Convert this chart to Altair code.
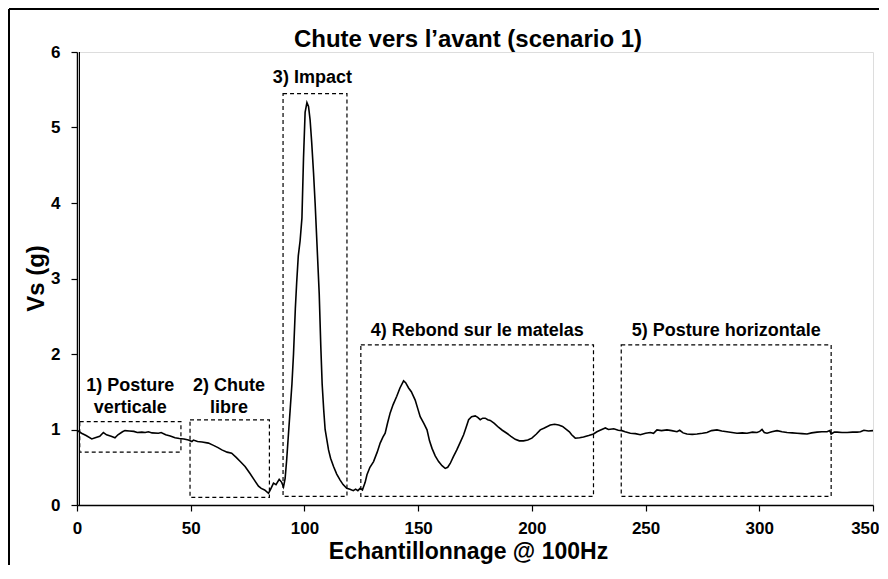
import altair as alt
import pandas as pd

# ---- signal (sample index, Vs in g) ----
sample = [0, 2, 4, 6.5, 8, 10, 11.6, 13, 15, 16.7, 18, 20, 21.1, 23, 25, 26.5, 28.5, 30, 31.4, 33,
          35.8, 37, 39, 41, 43.1, 45, 47, 49, 50.5, 51.2, 53, 55, 57.8, 60, 62, 63.7, 66, 68, 70, 72,
          73.9, 76, 78, 79.8, 81, 82.5, 84.2, 85, 86.4, 87.5, 88.9, 90, 90.8, 91.5, 92.2, 93, 93.7, 94.5,
          95.2, 96, 96.6, 97.3, 98.1, 98.9, 99.6, 100.3, 101.1, 101.8, 102.5, 103.2, 104, 104.7, 105.6,
          106.5, 107.2, 107.8, 108.5, 109.1, 110.6, 111.5, 112.8, 114.2, 115.7, 117, 118.6, 120, 121.5,
          122.5, 123.5, 124.5, 125.5, 126.7, 127.5, 128.8, 130.4, 132, 133.3, 134.5, 135.5, 136.5,
          137.7, 139, 140.6, 142, 143.6, 144.5, 145.8, 147, 148.7, 149.8, 150.9, 152.5, 153.9, 155,
          156.1, 157.5, 159, 160.5, 161.9, 163, 164.1, 165.5, 167, 168.5, 170, 171, 172.2, 173.5, 175.1,
          176.2, 177.3, 178.4, 179.5, 180.6, 181.7, 183.5, 185.3, 187, 189, 190.8, 192.7, 194.5, 196.3,
          198.2, 200, 202, 203.7, 205.5, 208.1, 210, 211.8, 213.5, 215.4, 216.5, 217.5, 219.1, 221,
          222.7, 225, 227.1, 228.6, 230, 231.5, 232.3, 233.7, 236, 238, 239.6, 241, 243.3, 245.5, 247.7,
          250, 252.1, 253.5, 255, 257, 259.4, 261.5, 263.8, 265, 266.5, 268.2, 270.5, 272.6, 275, 277,
          279, 281.4, 283.5, 285.8, 288, 290.2, 292.5, 294.6, 297, 299, 300.2, 301.2, 302.2, 303.4,
          305.5, 307.8, 310, 312.2, 314.5, 316.6, 318.8, 321, 323, 325.4, 327.5, 329.8, 331, 331.6, 333,
          334.2, 336.4, 338.6, 341, 343, 344.5, 346, 348, 350]
vs_g = [0.99, 0.95, 0.92, 0.875, 0.89, 0.91, 0.96, 0.93, 0.91, 0.89, 0.93, 0.97, 0.985, 0.98, 0.975, 0.96,
        0.965, 0.96, 0.97, 0.955, 0.95, 0.96, 0.93, 0.915, 0.89, 0.88, 0.875, 0.86, 0.84, 0.86, 0.84, 0.835,
        0.82, 0.79, 0.76, 0.73, 0.70, 0.685, 0.63, 0.57, 0.51, 0.42, 0.33, 0.25, 0.22, 0.20, 0.155, 0.20,
        0.29, 0.27, 0.34, 0.30, 0.24, 0.35, 0.60, 0.95, 1.25, 1.60, 2.0, 2.6, 2.95, 3.3, 3.5, 3.8, 4.6, 5.2,
        5.33, 5.28, 5.1, 4.8, 4.4, 4.0, 3.4, 2.8, 2.1, 1.6, 1.25, 1.0, 0.73, 0.62, 0.51, 0.41, 0.33, 0.27,
        0.22, 0.21, 0.19, 0.21, 0.19, 0.22, 0.20, 0.30, 0.40, 0.50, 0.575, 0.70, 0.82, 0.90, 0.95, 1.08,
        1.22, 1.33, 1.44, 1.55, 1.645, 1.62, 1.55, 1.50, 1.39, 1.28, 1.17, 1.08, 0.995, 0.85, 0.75, 0.65,
        0.575, 0.52, 0.485, 0.50, 0.55, 0.64, 0.73, 0.83, 0.93, 1.02, 1.13, 1.17, 1.18, 1.16, 1.13, 1.15,
        1.15, 1.13, 1.12, 1.08, 1.03, 0.99, 0.95, 0.91, 0.87, 0.85, 0.85, 0.86, 0.885, 0.94, 0.995, 1.02,
        1.06, 1.07, 1.06, 1.04, 0.995, 0.97, 0.93, 0.885, 0.89, 0.90, 0.92, 0.94, 0.97, 0.99, 1.01, 1.02,
        1.0, 1.01, 0.99, 0.985, 0.97, 0.95, 0.945, 0.93, 0.95, 0.96, 0.95, 0.995, 0.985, 0.995, 0.985,
        0.97, 0.99, 0.955, 0.94, 0.935, 0.94, 0.95, 0.96, 0.985, 0.995, 0.98, 0.97, 0.96, 0.95, 0.955,
        0.95, 0.965, 0.96, 0.975, 1.0, 0.96, 0.95, 0.97, 0.985, 0.97, 0.96, 0.955, 0.95, 0.945, 0.94,
        0.955, 0.965, 0.97, 0.97, 0.985, 0.94, 0.965, 0.965, 0.96, 0.96, 0.965, 0.965, 0.97, 0.99, 0.98,
        0.985]

# ---- phase boxes ----
box_x1 = [1.2, 49.7, 90.6, 124.8, 239.3]
box_x2 = [45.7, 84.6, 118.7, 227.1, 331.6]
box_y1 = [0.70, 0.10, 0.115, 0.115, 0.115]
box_y2 = [1.105, 1.127, 5.45, 2.12, 2.12]

# ---- phase labels ----
label_text = ["1) Posture", "verticale", "2) Chute", "libre", "3) Impact",
              "4) Rebond sur le matelas", "5) Posture horizontale"]
label_x = [23.4, 23.4, 66.8, 66.8, 103.5, 176, 285.5]
label_y = [1.516, 1.216, 1.516, 1.216, 5.59, 2.24, 2.24]

x_ticks = [0, 50, 100, 150, 200, 250, 300, 350]
y_ticks = [0, 1, 2, 3, 4, 5, 6]
chart_title = ["Chute vers l’avant (scenario 1)"]

W, H = 796, 453
FONT = "Liberation Sans"

sig = pd.DataFrame({"x": sample, "y": vs_g})
boxes = pd.DataFrame({"x1": box_x1, "x2": box_x2, "y1": box_y1, "y2": box_y2})
labels = pd.DataFrame({"t": label_text, "x": label_x, "y": label_y})
one = pd.DataFrame({"t": chart_title})

xsc = alt.Scale(domain=[0, 350], nice=False, zero=False)
ysc = alt.Scale(domain=[0, 6], nice=False)

x_axis = alt.Axis(values=x_ticks, title="Echantillonnage @ 100Hz", grid=False, format="d",
                  tickSize=6, tickColor="black", tickWidth=1.2,
                  domainColor="black", domainWidth=1.5,
                  labelFont=FONT, labelFontSize=17, labelFontWeight="bold", labelColor="black",
                  labelBaseline="alphabetic", labelPadding=22, labelFlush=False,
                  labelAlign={"condition": {"test": "datum.value == 350", "value": "right"},
                              "value": "center"},
                  labelOffset={"condition": {"test": "datum.value == 350", "value": 6},
                               "value": 0},
                  titleFont=FONT, titleFontSize=23, titleFontWeight="bold", titleColor="black",
                  titleBaseline="alphabetic", titleX=391, titleY=53, titleAlign="center")
y_axis = alt.Axis(values=y_ticks, title="Vs (g)", grid=False, format="d",
                  tickSize=6, tickColor="black", tickWidth=1.2,
                  domainColor="black", domainWidth=1.5,
                  labelFont=FONT, labelFontSize=17, labelFontWeight="bold", labelColor="black",
                  labelPadding=11, labelFlush=False,
                  titleFont=FONT, titleFontSize=24, titleFontWeight="bold", titleColor="black",
                  titleBaseline="alphabetic", titleAngle=270, titleX=-34, titleY=226, titleAlign="center")

line = alt.Chart(sig).mark_line(color="black", strokeWidth=1.6).encode(
    x=alt.X("x:Q", scale=xsc, axis=x_axis),
    y=alt.Y("y:Q", scale=ysc, axis=y_axis),
)

rects = alt.Chart(boxes).mark_rect(filled=False, stroke="black", strokeWidth=1.2,
                                   strokeDash=[4, 3]).encode(
    x=alt.X("x1:Q", scale=xsc), x2="x2:Q",
    y=alt.Y("y1:Q", scale=ysc), y2="y2:Q",
)

texts = alt.Chart(labels).mark_text(font=FONT, fontSize=18, fontWeight="bold", color="black",
                                    align="center", baseline="alphabetic").encode(
    x=alt.X("x:Q", scale=xsc), y=alt.Y("y:Q", scale=ysc), text="t:N",
)

title_mark = alt.Chart(one).mark_text(font=FONT, fontSize=24, fontWeight="bold", color="black",
                                      align="center", baseline="alphabetic").encode(
    text="t:N", x=alt.value(391), y=alt.value(-5.5))

# frame decorations (double left line of the plot area, outer chart border)
inner_left = alt.Chart(one).mark_rule(color="black", strokeWidth=1).encode(
    x=alt.value(2.5), y=alt.value(0), y2=alt.value(H))
outer_left = alt.Chart(one).mark_rule(color="black", strokeWidth=2).encode(
    x=alt.value(-68), y=alt.value(-43), y2=alt.value(H + 70))
outer_top = alt.Chart(one).mark_rule(color="black", strokeWidth=2).encode(
    x=alt.value(-68), x2=alt.value(W + 10), y=alt.value(-43))

chart = alt.layer(rects, line, texts, title_mark, inner_left, outer_left, outer_top).properties(
    width=W, height=H,
    autosize=alt.AutoSizeParams(type="none"),
    padding={"left": 69, "top": 44, "right": 6, "bottom": 60},
).configure_view(stroke="black", strokeWidth=1.5).configure(background="white")

chart.save("out.html", embed_options={"renderer": "svg", "actions": False})
